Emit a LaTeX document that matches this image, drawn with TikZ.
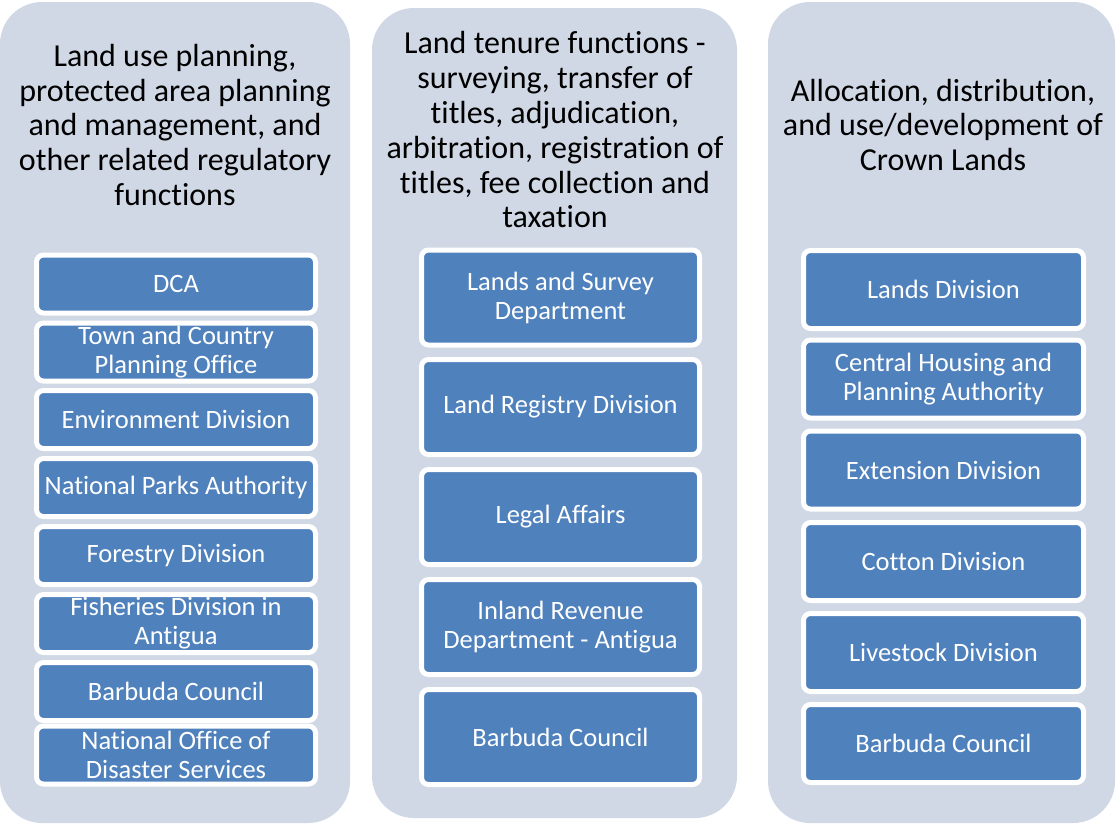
\documentclass[tikz,border=0pt]{standalone}
\usepackage{fontspec}
\setmainfont{Carlito}[Ligatures=NoCommon]
\definecolor{panelgray}{HTML}{D0D7E5}
\definecolor{boxblue}{HTML}{4F81BD}
\newcommand{\headfont}{\fontsize{32}{34.8}\selectfont}
\newcommand{\boxfont}{\fontsize{26.5}{29}\selectfont}
\begin{document}
\begin{tikzpicture}[x=1pt,y=-1pt,
		panel/.style={fill=panelgray,rounded corners=42pt,inner sep=0pt,outer sep=0pt},
		head/.style={align=center,font=\headfont,inner sep=0pt},
		unit/.style={fill=boxblue,draw=white,line width=5pt,rounded corners=7pt,
			text=white,align=center,font=\boxfont,inner sep=0pt}]
		\useasboundingbox (0,0) rectangle (1117,825);
		% the three columns
		\node[panel,minimum width=350,minimum height=821] (pl) at (175,412.5) {};
		\node[panel,minimum width=365,minimum height=810] (pm) at (554.5,413) {};
		\node[panel,minimum width=347,minimum height=821] (pr) at (941.5,412.5) {};
		\node[head] (hl) at (175,125) {Land use planning,\\protected area planning\\and management, and\\other related regulatory\\functions};
		\node[head] (hm) at (555,130) {Land tenure functions -\\surveying, transfer of\\titles, adjudication,\\arbitration, registration of\\titles, fee collection and\\taxation};
		\node[head] (hr) at (943,125) {Allocation, distribution,\\and use/development of\\Crown Lands};
		% left column
		\begin{scope}[every node/.append style={unit,minimum width=279,minimum height=58}]
			\node (l0) at (176,284) {DCA};
			\node (l1) at (176,352) {Town and Country\\Planning Office};
			\node (l2) at (176,419.5) {Environment Division};
			\node (l3) at (176,487.5) {National Parks Authority};
			\node (l4) at (176,555.5) {Forestry Division};
			\node (l5) at (176,623.5) {Fisheries Division in\\Antigua};
			\node (l6) at (176,691.5) {Barbuda Council};
			\node (l7) at (176,755) {National Office of\\Disaster Services};
		\end{scope}
		% middle column
		\begin{scope}[every node/.append style={unit,minimum width=278,minimum height=95}]
			\node (m0) at (560.5,297.5) {Lands and Survey\\Department};
			\node (m1) at (560.5,407) {Land Registry Division};
			\node (m2) at (560.5,517) {Legal Affairs};
			\node (m3) at (560.5,627) {Inland Revenue\\Department - Antigua};
			\node (m4) at (560.5,737) {Barbuda Council};
		\end{scope}
		% right column
		\begin{scope}[every node/.append style={unit,minimum width=280,minimum height=78}]
			\node (r0) at (943.5,289.5) {Lands Division};
			\node (r1) at (943.5,379) {Central Housing and\\Planning Authority};
			\node (r2) at (943.5,470) {Extension Division};
			\node (r3) at (943.5,561.5) {Cotton Division};
			\node (r4) at (943.5,652.5) {Livestock Division};
			\node (r5) at (943.5,743.5) {Barbuda Council};
		\end{scope}
	\end{tikzpicture}
\end{document}
